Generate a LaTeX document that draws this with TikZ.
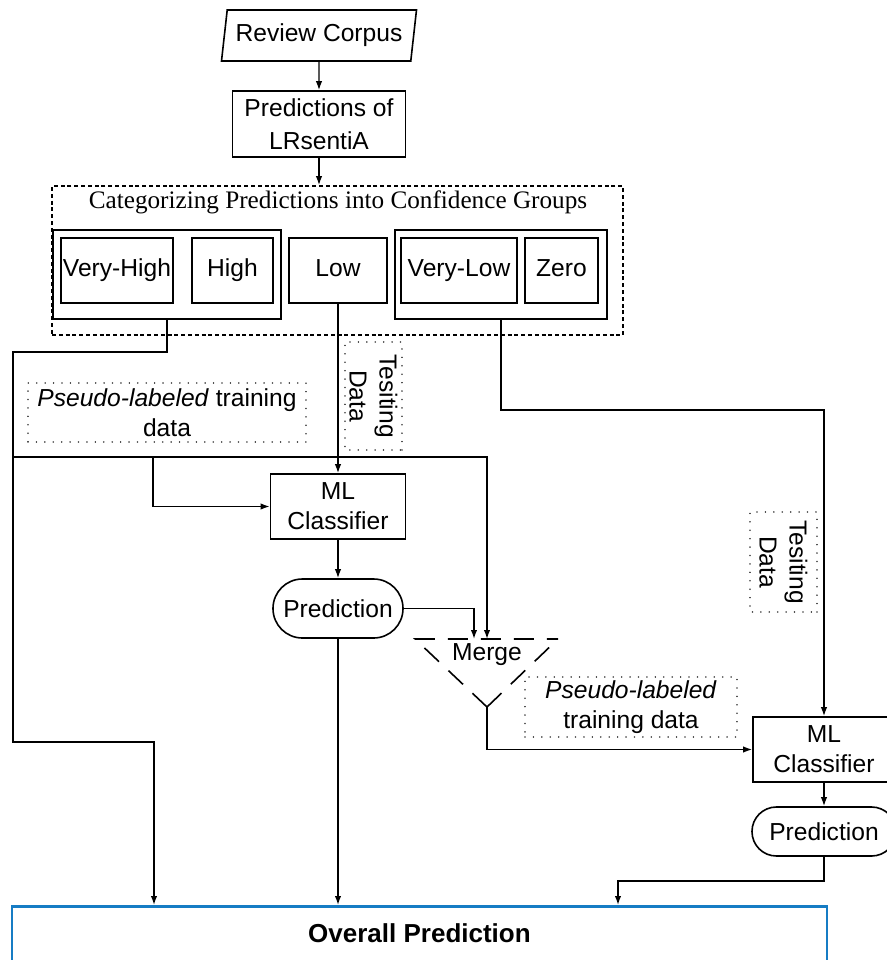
\documentclass[tikz,border=0pt]{standalone}
\usepackage{fontspec}
\setmainfont{Liberation Sans}
\newfontfamily\ttlfont{Liberation Serif}
\usetikzlibrary{arrows.meta,shapes.geometric}
\definecolor{ovblue}{RGB}{22,124,196}

\begin{document}
\begin{tikzpicture}[x=0.5pt,y=-0.5pt,
font=\fontsize{12.3}{15}\selectfont,
box/.style={draw,line width=0.8pt,align=center,inner sep=0pt,minimum height=32.5pt},
cbox/.style={box,text height=9pt,text depth=2.6pt},
lbl/.style={draw=black!75,line width=0.8pt,dash pattern=on 0.01pt off 4.2pt,line cap=round,align=center,inner sep=0pt},
arr/.style={-{Latex[length=4.5pt,width=3.2pt]},line width=0.7pt}]
\useasboundingbox (0,0) rectangle (887,960);
\node[trapezium,trapezium left angle=76,trapezium right angle=104,trapezium stretches body,draw,line width=0.8pt,inner sep=0pt,minimum width=97.5pt,minimum height=25.5pt] (corpus) at (319,35.5) {Review Corpus};
\node[box,minimum width=86.5pt,minimum height=33pt,font=\fontsize{12.3}{16.5}\selectfont] (lrs) at (319,124) {Predictions of\\LRsentiA};
\node[draw,line width=0.8pt,dash pattern=on 2pt off 1.4pt,inner sep=0pt,minimum width=285.5pt,minimum height=74.5pt] (grp) at (337.5,260.5) {};
\node[font=\ttlfont\fontsize{12.6}{15}\selectfont] (ttl) at (338,202) {Categorizing Predictions into Confidence Groups};
\node[box,minimum width=114pt,minimum height=44.5pt] (g1) at (167,274.5) {};
\node[cbox,minimum width=56pt] (vhigh) at (117,270.5) {Very-High};
\node[cbox,minimum width=40.5pt] (high) at (232.5,270.5) {High};
\node[cbox,minimum width=49pt] (low) at (338,270.5) {Low};
\node[box,minimum width=106pt,minimum height=44.5pt] (g2) at (501,274.5) {};
\node[cbox,minimum width=58pt] (vlow) at (459,270.5) {Very-Low};
\node[cbox,minimum width=36.5pt] (zero) at (561.5,270.5) {Zero};
\node[lbl,minimum width=139pt,minimum height=29.5pt] (pseudo1) at (167,412.5) {\textit{Pseudo-labeled} training\\data};
\node[lbl,rotate=-90,minimum width=54pt,minimum height=28.5pt] (test1) at (373.5,396) {Tesiting\\Data};
\node[box,minimum width=67.5pt] (ml1) at (338,506.5) {ML\\Classifier};
\node[box,rounded corners=14.7pt,minimum width=65pt,minimum height=29.5pt] (pred1) at (338,608.5) {Prediction};
\node (merge) at (487,655) {Merge};
\coordinate (mgl) at (415,639);
\coordinate (mgr) at (558,639);
\coordinate (mga) at (487,707);
\draw[line width=0.8pt,dash pattern=on 10pt off 6.5pt] (mga) -- (mgl) -- (mgr);
\draw[line width=0.8pt,dash pattern=on 10pt off 6.5pt] (mga) -- (mgr);
\node[lbl,minimum width=106pt,minimum height=30pt] (pseudo2) at (631,707) {\textit{Pseudo-labeled}\\training data};
\node[lbl,rotate=-90,minimum width=50pt,minimum height=33.5pt] (test2) at (783.5,562) {Tesiting\\Data};
\node[box,minimum width=71pt] (ml2) at (824,749.5) {ML\\Classifier};
\node[box,rounded corners=12.2pt,minimum width=72pt,minimum height=24.5pt] (pred2) at (824,831.5) {Prediction};
\node[draw=ovblue,line width=1.4pt,inner sep=0pt,minimum width=407.5pt,text height=18pt,text depth=40pt,anchor=north,font=\bfseries\fontsize{13}{15}\selectfont] (overall) at (419.5,905) {Overall Prediction};
\coordinate (lt) at (13,352);
\coordinate (lm) at (13,457);
\coordinate (lj) at (153,457);
\coordinate (lb) at (13,742);
\coordinate (o1) at (154,905);
\coordinate (o2) at (338,905);
\coordinate (o3) at (618,905);
\coordinate (mt1) at (474,639);
\coordinate (mt2) at (487,639);
\draw[arr] (corpus.south) -- (lrs.north);
\draw[arr] (lrs.south) -- (lrs.south |- grp.north);
\draw[arr] (g1.south) |- (lt) -- (lb) -| (o1);
\draw[arr] (lm) -| (mt2);
\draw[arr] (lj) |- (ml1.west);
\draw[arr] (low.south) -- (ml1.north);
\draw[arr] (ml1) -- (pred1);
\draw[arr] (pred1.east) -| (mt1);
\draw[arr] (pred1.south) -- (o2);
\draw[arr] (mga) |- (ml2.west);
\draw[arr] (g2.south) -- ++(0,90) -| (ml2.north);
\draw[arr] (ml2) -- (pred2);
\draw[arr] (pred2.south) -- ++(0,24) -| (o3);
\end{tikzpicture}
\end{document}
